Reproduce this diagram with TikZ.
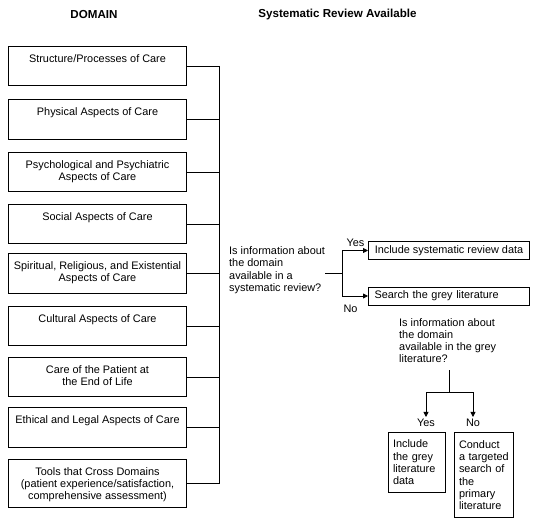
\documentclass[tikz,border=0pt]{standalone}
\usepackage{fontspec}
\setmainfont{Liberation Sans}
\usetikzlibrary{arrows.meta}
\newcommand{\domtxt}[2][25pt]{\parbox[t][#1][t]{176pt}{\centering\strut #2}}

\begin{document}
\begin{tikzpicture}[x=1pt,y=-1pt,font=\fontsize{10.9}{12.3}\selectfont,
  >={Triangle[length=5pt,width=5pt]},
  hd/.style={font=\fontsize{11.6}{13}\selectfont\bfseries},
  dom/.style={draw,line width=1pt,anchor=north west,inner xsep=1pt,inner ysep=7pt},
  res/.style={draw,line width=1pt,align=left},
  lnk/.style={line width=0.8pt}]
\useasboundingbox (0,0) rectangle (536,524);
% headings
\node[hd] (hdom) at (94,15) {DOMAIN};
\node[hd] (hrev) at (337.5,15) {Systematic Review Available};
% domains
\node[dom] (d1) at (8,46) {\domtxt{Structure/Processes of Care}};
\node[dom] (d2) at (8,99) {\domtxt[26pt]{Physical Aspects of Care}};
\node[dom] (d3) at (8,152) {\domtxt{Psychological and Psychiatric\\Aspects of Care}};
\node[dom] (d4) at (8,204) {\domtxt{Social Aspects of Care}};
\node[dom] (d5) at (8,253) {\domtxt[26pt]{Spiritual, Religious, and Existential\\Aspects of Care}};
\node[dom] (d6) at (8,306) {\domtxt{Cultural Aspects of Care}};
\node[dom] (d7) at (8,357) {\domtxt{Care of the Patient at\\the End of Life}};
\node[dom] (d8) at (8,407) {\domtxt[26pt]{Ethical and Legal Aspects of Care}};
\node[dom] (d9) at (8,459) {\domtxt[34pt]{Tools that Cross Domains\\(patient experience/satisfaction,\\comprehensive assessment)}};
% spine
\coordinate (sp) at (219,0);
\foreach \i in {1,...,9}
  \draw[lnk] (d\i.east) -- (d\i.east -| sp);
\draw[lnk] (d1.east -| sp) -- (d9.east -| sp);
% systematic review question
\node[anchor=north west,align=left,inner sep=0pt] (q) at (229,246.5) {Is information about\\the domain\\available in a\\systematic review?};
\coordinate (j) at (342,273);
\draw[lnk] (q.east |- j) -- (j);
\node[res,anchor=west,inner xsep=6pt,inner ysep=0pt,minimum width=161pt,minimum height=17pt] (r1) at (368,250.5) {Include systematic review data};
\node[res,anchor=west,text width=149pt,inner xsep=6pt,inner ysep=0pt,minimum height=18pt] (r2) at (368,296) {Search the grey literature};
\draw[lnk,->] (j) |- (r1.west);
\draw[lnk,->] (j) |- (r2.west);
\node[inner sep=0pt] (yes1) at (355.5,243) {Yes};
\node[inner sep=0pt] (no1) at (350.5,309) {No};
% grey literature question
\node[anchor=north west,align=left,inner sep=0pt] (g) at (399,318) {Is information about\\the domain\\available in the grey\\literature?};
\coordinate (k) at (449,392);
\draw[lnk] (g.south -| k) ++(0,7) -- (k);
\node[inner sep=2pt] (yes2) at (426,423) {Yes};
\node[inner sep=2pt] (no2) at (473,423) {No};
\draw[lnk,->] (k) -| (yes2.north);
\draw[lnk,->] (k) -| (no2.north);
\node[res,anchor=north west,text width=48pt,inner xsep=4.5pt,minimum height=60pt] (b1) at (388,432) {Include\\the grey\\literature\\data};
\node[res,anchor=north west,text width=50pt,inner xsep=4.5pt,minimum height=85pt] (b2) at (454,432) {Conduct\\a targeted\\search of\\the\\primary\\literature};
\end{tikzpicture}
\end{document}
